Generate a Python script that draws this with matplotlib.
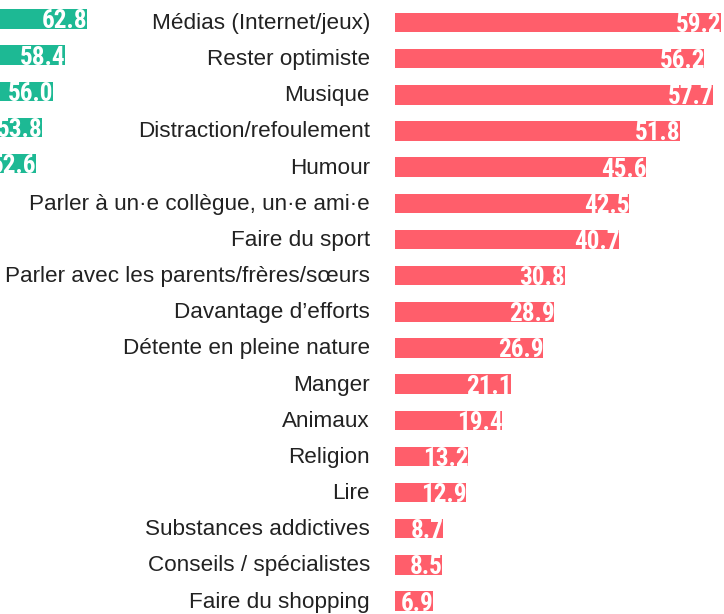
import matplotlib
matplotlib.use("Agg")
import matplotlib.pyplot as plt
from matplotlib import font_manager as fm
from matplotlib.transforms import ScaledTranslation

# ---- data ----
categories = [
    "Médias (Internet/jeux)", "Rester optimiste", "Musique",
    "Distraction/refoulement", "Humour", "Parler à un·e collègue, un·e ami·e",
    "Faire du sport", "Parler avec les parents/frères/sœurs",
    "Davantage d’efforts", "Détente en pleine nature", "Manger", "Animaux",
    "Religion", "Lire", "Substances addictives", "Conseils / spécialistes",
    "Faire du shopping",
]
red_values = [59.2, 56.2, 57.7, 51.8, 45.6, 42.5, 40.7, 30.8, 28.9, 26.9,
              21.1, 19.4, 13.2, 12.9, 8.7, 8.5, 6.9]
green_values = [62.8, 58.4, 56.0, 53.8, 52.6]

RED = "#FF5E6B"
GREEN = "#1DB994"

names = {f.name for f in fm.fontManager.ttflist}
cond = None
for cand in ["Liberation Sans Narrow", "DejaVu Sans Condensed", "Roboto Condensed"]:
    if cand in names:
        cond = cand
        break
if cond is None:
    cond = "Liberation Sans"
label_font = "Liberation Sans"

W, H = 724, 614
fig = plt.figure(figsize=(W / 100, H / 100), dpi=100)

px = 5.507          # pixels per unit (red)
x0 = 395            # zero position
pitch = 36.16
c0 = 22.5
bar_h = 19.5 / pitch

# red axes
ax = fig.add_axes([x0 / W, 0, (W - x0) / W, 1])
ax.set_xlim(0, (W - x0) / px)
ax.set_ylim((H - c0) / pitch, -c0 / pitch)
ypos = list(range(len(categories)))
ax.barh(ypos, red_values, height=bar_h, color=RED)
for y, v in zip(ypos, red_values):
    ax.text(v + 0.1, y, f"{v:.1f}", ha="right", va="center_baseline",
            color="white", fontsize=18.2, fontweight="bold", family=cond)
ax.set_yticks(ypos)
ax.set_yticklabels(categories, fontsize=16.2, color="#222222", family=label_font)
ax.tick_params(axis="y", length=0, pad=18)
off = ScaledTranslation(0, 1.5 / 100, fig.dpi_scale_trans)
for lab in ax.get_yticklabels():
    lab.set_transform(lab.get_transform() + off)
ax.set_xticks([])
for s in ax.spines.values():
    s.set_visible(False)
ax.patch.set_alpha(0)

# green axes (partially visible panel on the left)
gpx = 4.975
ga = -225.7
gw = 110
axg = fig.add_axes([0, 0, gw / W, 1])
axg.set_xlim((0 - ga) / gpx, (gw - ga) / gpx)
gc0 = 19.0
axg.set_ylim((H - gc0) / pitch, -gc0 / pitch)
gy = list(range(len(green_values)))
axg.barh(gy, green_values, height=bar_h, color=GREEN)
for y, v in zip(gy, green_values):
    axg.text(v + 0.1, y, f"{v:.1f}", ha="right", va="center_baseline",
             color="white", fontsize=18.2, fontweight="bold", family=cond)
axg.axis("off")

fig.savefig("out.png", dpi=100)
